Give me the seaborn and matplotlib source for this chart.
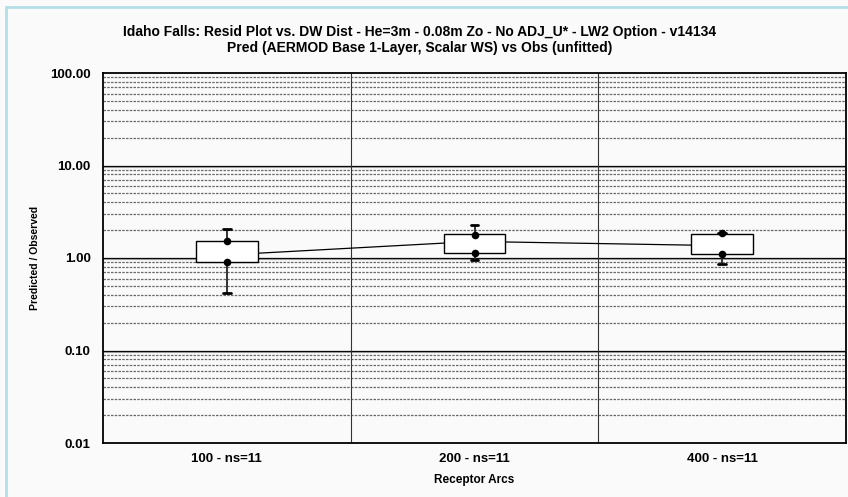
import matplotlib
matplotlib.use("Agg")
import matplotlib.pyplot as plt
from matplotlib.lines import Line2D
import numpy as np
import pandas as pd
import seaborn as sns

# ---- data ----
categories = ["100 - ns=11", "200 - ns=11", "400 - ns=11"]
whisker_low = [0.42, 0.95, 0.86]
box_low = [0.91, 1.12, 1.11]
center = [1.08, 1.51, 1.36]
box_high = [1.53, 1.80, 1.82]
whisker_high = [2.04, 2.29, 1.87]
dot_low = [0.91, 1.12, 1.11]
dot_high = [1.52, 1.79, 1.85]

title = ("Idaho Falls: Resid Plot vs. DW Dist - He=3m - 0.08m Zo - No ADJ_U* - LW2 Option - v14134\n"
         "Pred (AERMOD Base 1-Layer, Scalar WS) vs Obs (unfitted)")
y_ticks = [0.01, 0.1, 1, 10, 100]
y_ticklabels = ["0.01", "0.10", "1.00", "10.00", "100.00"]

# ---- build tables ----
rows = []
for c, a, b, m, d, e in zip(categories, whisker_low, box_low, center, box_high, whisker_high):
    for v in (a, b, m, d, e):
        rows.append({"cat": c, "val": v})
box_df = pd.DataFrame(rows)
line_df = pd.DataFrame({"cat": categories, "val": center})
dots_df = pd.DataFrame({"cat": categories * 2, "val": dot_low + dot_high})

sns.set_theme(style="white")
plt.rcParams["font.family"] = ["Liberation Sans", "DejaVu Sans"]
plt.rcParams["text.color"] = "black"
plt.rcParams["axes.labelcolor"] = "black"
plt.rcParams["xtick.color"] = "black"
plt.rcParams["ytick.color"] = "black"

bg = "#fafafa"
fig = plt.figure(figsize=(8.48, 4.97), dpi=100, facecolor=bg)
ax = fig.add_axes([103 / 848, 1 - 443 / 497, (846 - 103) / 848, (443 - 73) / 497])
ax.set_facecolor(bg)

sns.lineplot(data=line_df, x="cat", y="val", color="black", linewidth=0.9,
             sort=False, ax=ax, zorder=2)
sns.boxplot(data=box_df, x="cat", y="val", order=categories, whis=(0, 100),
            width=0.25, color="white", linecolor="black", linewidth=1.0,
            showfliers=False, capwidths=0.03,
            medianprops={"visible": False},
            whiskerprops={"color": "#333333", "linewidth": 1.4},
            capprops={"color": "black", "linewidth": 2.0},
            boxprops={"zorder": 3, "facecolor": "white", "edgecolor": "black"},
            ax=ax)
sns.scatterplot(data=dots_df, x="cat", y="val", color="black", s=30,
                edgecolor="black", linewidth=0, zorder=5, ax=ax)

ax.set_yscale("log")
ax.set_ylim(0.01, 100)
ax.set_xlim(-0.5, 2.5)

# grid lines
for dec in [0.01, 0.1, 1, 10]:
    for k in range(2, 10):
        ax.axhline(dec * k, color="#6a6a6a", linewidth=0.9, linestyle=(0, (2, 1)), zorder=1)
for dec in [0.1, 1, 10]:
    ax.axhline(dec, color="black", linewidth=0.9, zorder=1)
    ax.axhline(dec * 0.965, color="#9a9a9a", linewidth=0.8, zorder=1)
for xv in [0.5, 1.5]:
    ax.axvline(xv, color="#333333", linewidth=0.8, zorder=1)

ax.set_yticks(y_ticks)
ax.set_yticklabels(y_ticklabels)
ax.yaxis.set_minor_locator(matplotlib.ticker.NullLocator())
ax.tick_params(axis="both", length=0, labelsize=9.5, labelcolor="black")
ax.tick_params(axis="y", pad=9)
ax.tick_params(axis="x", pad=7.5)
for lab in ax.get_xticklabels() + ax.get_yticklabels():
    lab.set_fontweight("bold")

ax.set_xlabel("Receptor Arcs", fontsize=8.5, fontweight="bold", labelpad=6, color="black")
ax.set_ylabel("Predicted / Observed", fontsize=7.5, fontweight="bold", labelpad=7, color="black")

for s in ax.spines.values():
    s.set_visible(True)
    s.set_color("black")
    s.set_linewidth(1.3)

fig.text(420 / 848, 1 - 40 / 497, title, ha="center", va="center", color="black",
         fontsize=10, fontweight="bold", linespacing=1.1)

# light blue frame
fig.add_artist(Line2D([6 / 848, 6 / 848], [0, 1 - 7 / 497], color="#b5dfe6", linewidth=2.0))
fig.add_artist(Line2D([6 / 848, 1], [1 - 7 / 497, 1 - 7 / 497], color="#b5dfe6", linewidth=2.0))

fig.savefig("out.png", dpi=100, facecolor=bg)
